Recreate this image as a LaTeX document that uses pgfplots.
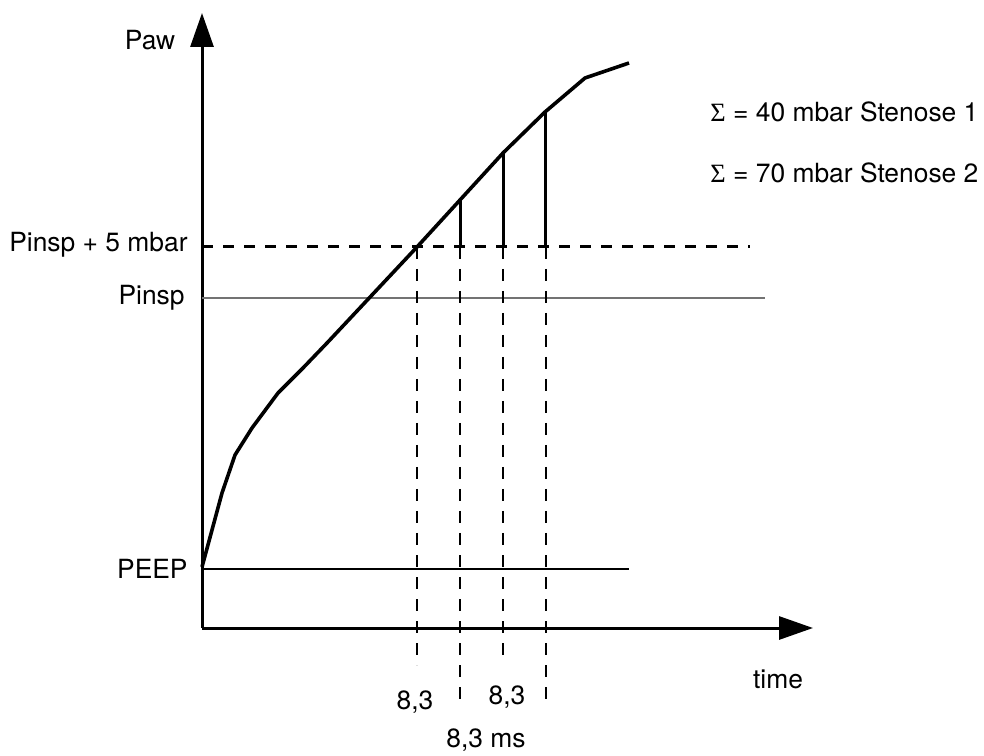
\documentclass[border=0pt]{standalone}
\usepackage{pgfplots}
\pgfplotsset{compat=1.18}
\usepackage{fontspec}
\setmainfont{TeX Gyre Heros}
\newfontfamily\symb{Liberation Serif}
\usetikzlibrary{arrows.meta}
\tikzset{lab/.style={inner sep=0pt, font=\fontsize{13.2}{15}\selectfont}}
\begin{document}
\begin{tikzpicture}
\begin{axis}[
    hide axis,
    x=0.5pt, y=0.5pt,
    xmin=0, xmax=984, ymin=0, ymax=755,
    clip=false,
]
% frame that fixes the page size
\path[draw=none] (axis cs:0,0) rectangle (axis cs:984,755);

% axes with big arrow heads
\addplot[line width=1.5pt, -{Triangle[length=17pt,width=11.5pt]}] coordinates {(202,127) (202,742)};
\addplot[line width=1.5pt, -{Triangle[length=17pt,width=11.5pt]}] coordinates {(202,127) (813,127)};

% reference levels
\addplot[line width=1.5pt, dash pattern=on 5.5pt off 5pt] coordinates {(202,508) (750,508)};
\addplot[line width=0.6pt, black!55] coordinates {(202,457) (765,457)};
\addplot[line width=0.6pt] coordinates {(202,186) (629,186)};

% time markers (thin dashed)
\addplot[line width=0.55pt, dash pattern=on 6pt off 5pt] coordinates {(417,508) (417,90)};
\addplot[line width=0.55pt, dash pattern=on 6pt off 5pt] coordinates {(460,508) (460,48)};
\addplot[line width=0.55pt, dash pattern=on 6pt off 5pt] coordinates {(503,508) (503,98)};
\addplot[line width=0.55pt, dash pattern=on 6pt off 5pt] coordinates {(546,508) (546,53)};

% pressure steps above the threshold
\addplot[line width=1.5pt] coordinates {(460,508) (460,555)};
\addplot[line width=1.5pt] coordinates {(503,508) (503,602)};
\addplot[line width=1.5pt] coordinates {(545,508) (545,643)};

% pressure curve
\addplot[line width=1.8pt, line join=round] coordinates {
    (202,188) (222,262) (235,300) (252,327) (278,362) (303,387)
    (327,412) (417,508) (460,555) (503,602) (545,643) (585,677) (629,692)};

% labels
\node[lab, anchor=center] at (axis cs:150,715) {Paw};
\node[lab, anchor=east] at (axis cs:188,510) {Pinsp + 5 mbar};
\node[lab, anchor=east] at (axis cs:185,457) {Pinsp};
\node[lab, anchor=east] at (axis cs:188,186) {PEEP};
\node[lab, anchor=center] at (axis cs:415,53) {8,3};
\node[lab, anchor=center] at (axis cs:507,58) {8,3};
\node[lab, anchor=center] at (axis cs:486,15) {8,3 ms};
\node[lab, anchor=center] at (axis cs:778,76) {time};
\node[lab, anchor=west] at (axis cs:710,643) {{\symb Σ} = 40 mbar Stenose 1};
\node[lab, anchor=west] at (axis cs:710,582) {{\symb Σ} = 70 mbar Stenose 2};
\end{axis}
\end{tikzpicture}
\end{document}
